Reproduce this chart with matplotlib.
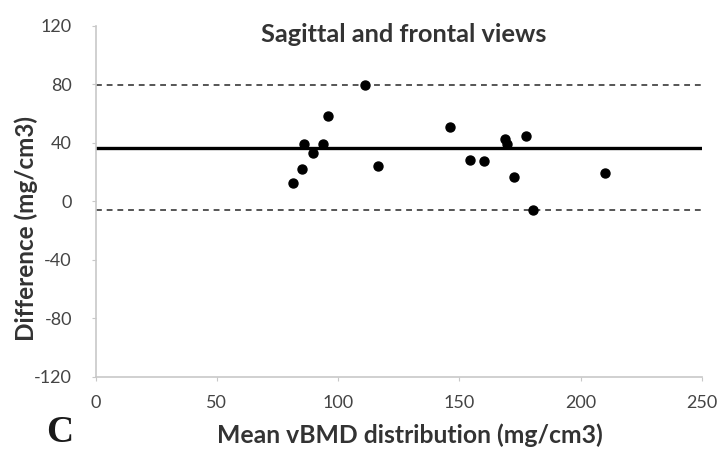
import numpy as np
import matplotlib.pyplot as plt

# Bland-Altman data
mean_vbmd = [81.4, 85.1, 85.9, 89.6, 93.6, 95.8, 111.0, 116.3, 146.1, 154.4,
             160.1, 168.8, 169.5, 177.5, 172.5, 180.2, 210.0]
difference = [12.8, 22.3, 39.3, 33.2, 39.3, 58.3, 79.5, 24.6, 50.6, 28.4,
              27.6, 42.5, 39.3, 44.7, 16.7, -6.0, 19.8]
mean_diff = 36.5
upper_loa = 79.5
lower_loa = -6.0

x_ticks = [0, 50, 100, 150, 200, 250]
y_ticks = [-120, -80, -40, 0, 40, 80, 120]

plt.rcParams['font.family'] = ['Lato', 'DejaVu Sans']
plt.rcParams['axes.unicode_minus'] = False

fig = plt.figure(figsize=(7.23, 4.51), dpi=100)
ax = fig.add_axes([0.1321, 0.1641, 0.839, 0.7783])

ax.axhline(mean_diff, color='black', lw=2.4, zorder=2)
ax.axhline(upper_loa, color='#555555', lw=1.4, ls=(0, (3, 2.5)), zorder=1)
ax.axhline(lower_loa, color='#555555', lw=1.4, ls=(0, (3, 2.5)), zorder=1)
ax.scatter(mean_vbmd, difference, s=42, color='black', zorder=3)

ax.set_xlim(0, 250)
ax.set_ylim(-120, 120)
ax.set_xticks(x_ticks)
ax.set_yticks(y_ticks)
ax.tick_params(labelsize=13, colors='#c8c8c8', labelcolor='#444444', length=3)
ax.tick_params(axis='x', pad=10)
ax.tick_params(axis='y', pad=14)

for s in ['top', 'right']:
    ax.spines[s].set_visible(False)
for s in ['left', 'bottom']:
    ax.spines[s].set_color('#c8c8c8')
    ax.spines[s].set_linewidth(1.2)

ax.set_xlabel('Mean vBMD distribution (mg/cm3)', fontsize=17.8,
              fontweight='bold', color='#333333', va='center')
ax.xaxis.set_label_coords(0.5186, -0.165)
ax.set_ylabel('Difference (mg/cm3)', fontsize=17.5,
              fontweight='bold', color='#333333', va='center')
ax.yaxis.set_label_coords(-0.1146, 0.4217)
ax.text(0.508, 1.008, 'Sagittal and frontal views', transform=ax.transAxes,
        ha='center', va='top', fontsize=18.3, fontweight='bold', color='#333333')
fig.text(0.064, 0.02, 'C', fontsize=27, family='Liberation Serif',
         fontweight='bold', color='#1a1a1a')

fig.savefig('out.png', dpi=100)
